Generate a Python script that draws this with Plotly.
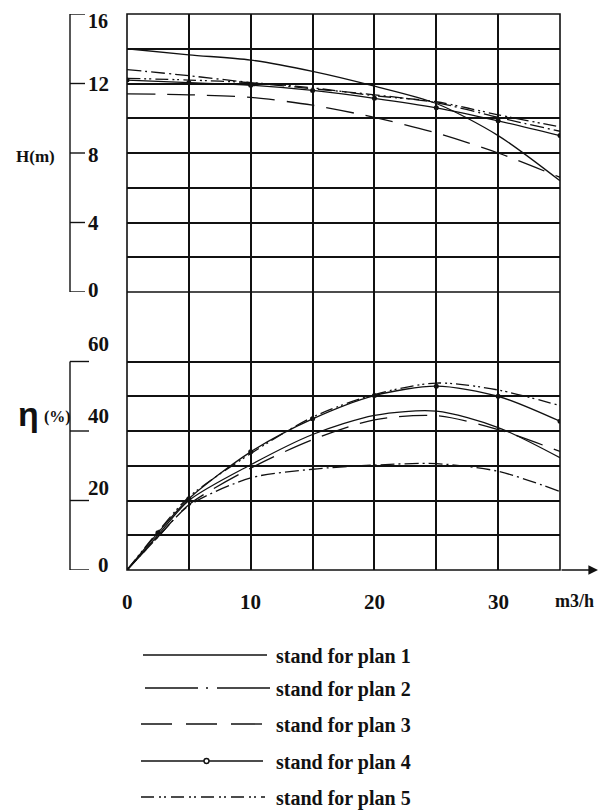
import plotly.graph_objects as go

# ---------------- data ----------------
Q_H = [0, 5, 10, 15, 20, 25, 30, 35]
H_plan1 = [14.0, 13.65, 13.35, 12.7, 11.85, 10.85, 9.0, 6.4]
H_plan2 = [12.8, 12.45, 12.05, 11.7, 11.35, 10.9, 10.05, 9.25]
H_plan3 = [11.4, 11.35, 11.2, 10.75, 10.05, 9.15, 8.0, 6.6]
H_plan4 = [12.2, 12.05, 11.9, 11.6, 11.15, 10.6, 9.85, 9.0]
H_plan5 = [12.3, 12.2, 12.05, 11.75, 11.3, 10.95, 10.2, 9.5]

Q_eta = [0, 2.5, 5, 10, 15, 20, 25, 30, 35]
eta_plan1 = [0, 10.0, 20.0, 30.3, 39.0, 44.5, 45.7, 41.0, 32.3]
eta_plan2 = [0, 9.5, 18.5, 26.5, 29.0, 30.2, 30.6, 28.4, 22.6]
eta_plan3 = [0, 9.5, 18.8, 29.3, 37.5, 43.2, 44.4, 40.4, 34.1]
eta_plan4 = [0, 10.7, 20.5, 34.0, 43.5, 50.2, 52.9, 50.0, 42.8]
eta_plan5 = [0, 11.0, 21.0, 33.5, 44.0, 50.5, 53.8, 51.8, 47.3]

x_ticks = [0, 10, 20, 30]
H_ticks = [16, 12, 8, 4, 0]
eta_ticks = [60, 40, 20, 0]
legend_labels = ["stand for plan 1", "stand for plan 2", "stand for plan 3",
                 "stand for plan 4", "stand for plan 5"]

# ---------------- styles ----------------
OFF = 8                      # page body margin
W, Hgt = 602, 802
BLACK = "#111111"
SERIF = "Liberation Serif"
plan_dash = ["solid", "14px,4px,2px,4px", "28px,12px", "solid", "13px,4px,2px,3px,2px,4px"]
H_series = [H_plan1, H_plan2, H_plan3, H_plan4, H_plan5]
eta_series = [eta_plan1, eta_plan2, eta_plan3, eta_plan4, eta_plan5]


def px(x):
    return (x - OFF) / W


def py(y):
    return 1 - (y - OFF) / Hgt


fig = go.Figure()
for i in range(5):
    mode = "lines+markers" if i == 3 else "lines"
    fig.add_trace(go.Scatter(
        x=Q_H, y=H_series[i], mode=mode, xaxis="x", yaxis="y",
        line=dict(color=BLACK, width=1.3, dash=plan_dash[i], shape="spline", smoothing=0.8),
        marker=dict(size=5, color=BLACK), name=legend_labels[i], hoverinfo="skip"))
    fig.add_trace(go.Scatter(
        x=Q_eta, y=eta_series[i], mode=mode, xaxis="x", yaxis="y2",
        line=dict(color=BLACK, width=1.3, dash=plan_dash[i], shape="spline", smoothing=0.8),
        marker=dict(size=5, color=BLACK), name=legend_labels[i], hoverinfo="skip"))

grid = dict(showgrid=True, gridcolor=BLACK, gridwidth=1.6, zeroline=False,
            showticklabels=False, ticks="", showline=False)

fig.update_layout(
    width=W, height=Hgt, margin=dict(l=0, r=0, t=0, b=0),
    paper_bgcolor="white", plot_bgcolor="white", showlegend=False,
    xaxis=dict(domain=[px(127), px(560)], range=[0, 35],
               tickvals=[0, 5, 10, 15, 20, 25, 30, 35], anchor="y2", **grid),
    yaxis=dict(domain=[py(292), py(14)], range=[0, 16],
               tickvals=[0, 2, 4, 6, 8, 10, 12, 14, 16], anchor="x", **grid),
    yaxis2=dict(domain=[py(570), py(292)], range=[0, 80],
                tickvals=[0, 10, 20, 30, 40, 50, 60, 80], anchor="x", **grid),
)

shapes = []
ann = []
# frame
shapes.append(dict(type="rect", xref="paper", yref="paper", x0=px(127), x1=px(560),
                   y0=py(570), y1=py(14), line=dict(color=BLACK, width=1.6)))
shapes.append(dict(type="line", xref="paper", yref="paper", x0=px(127), x1=px(560),
                   y0=py(292), y1=py(292), line=dict(color=BLACK, width=1.6)))

# H bracket axis
shapes.append(dict(type="line", xref="paper", yref="y", x0=px(70), x1=px(70), y0=0, y1=16,
                   line=dict(color=BLACK, width=1.4)))
H_shift = {16: -7, 12: -1, 8: -2, 4: -1, 0: 2}
for v in H_ticks:
    shapes.append(dict(type="line", xref="paper", yref="y", x0=px(70), x1=px(85), y0=v, y1=v,
                       line=dict(color=BLACK, width=1.4)))
    ann.append(dict(x=px(86), y=v, xref="paper", yref="y", text=str(v), showarrow=False,
                    xanchor="left", yanchor="middle", yshift=H_shift[v],
                    font=dict(family=SERIF, size=21 if v != 16 else 20, color=BLACK, weight="bold")))
ann.append(dict(x=px(35), y=8, xref="paper", yref="y", text="H(m)", showarrow=False,
                xanchor="center", yanchor="middle", yshift=-4,
                font=dict(family=SERIF, size=17, color=BLACK, weight="bold")))

# eta bracket axis
shapes.append(dict(type="line", xref="paper", yref="y2", x0=px(70), x1=px(70), y0=0, y1=60,
                   line=dict(color=BLACK, width=1.4)))
eta_shift = {60: 17, 40: 15, 20: 12, 0: 5}
eta_x = {60: 98, 40: 98, 20: 98, 0: 103}
for v in eta_ticks:
    shapes.append(dict(type="line", xref="paper", yref="y2", x0=px(70), x1=px(89), y0=v, y1=v,
                       line=dict(color=BLACK, width=1.4)))
    ann.append(dict(x=px(eta_x[v]), y=v, xref="paper", yref="y2", text=str(v), showarrow=False,
                    xanchor="center", yanchor="middle", yshift=eta_shift[v],
                    font=dict(family=SERIF, size=21, color=BLACK, weight="bold")))
ann.append(dict(x=px(41), y=py(414), xref="paper", yref="paper", text="η", showarrow=False,
                xanchor="right", yanchor="middle",
                font=dict(family="Liberation Sans", size=34, color=BLACK, weight="bold")))
ann.append(dict(x=px(42), y=py(417), xref="paper", yref="paper", text="(%)", showarrow=False,
                xanchor="left", yanchor="middle",
                font=dict(family=SERIF, size=16, color=BLACK, weight="bold")))

# x tick labels
for v in x_ticks:
    ann.append(dict(x=v, y=py(602), xref="x", yref="paper", text=str(v), showarrow=False,
                    xanchor="center", yanchor="middle",
                    font=dict(family=SERIF, size=21, color=BLACK, weight="bold")))
ann.append(dict(x=px(574), y=py(601), xref="paper", yref="paper", text="m3/h", showarrow=False,
                xanchor="center", yanchor="middle",
                font=dict(family=SERIF, size=18, color=BLACK, weight="bold")))
# axis arrow
ann.append(dict(x=px(598), y=py(570), xref="paper", yref="paper", text="", showarrow=True,
                ax=-38, ay=0, arrowhead=2, arrowsize=1.2, arrowwidth=1.6, arrowcolor=BLACK))

# legend
leg_y = [655, 688, 724, 761, 797]
leg_x0 = [143, 145, 141, 141, 141]
leg_x1 = [267, 270, 265, 263, 265]
leg_dash = ["solid", "53px,8px,2px,9px", "31px,14px", "solid", "13px,5px,2px,3px,2px,5px"]
for i in range(5):
    shapes.append(dict(type="line", xref="paper", yref="paper", x0=px(leg_x0[i]), x1=px(leg_x1[i]),
                       y0=py(leg_y[i]), y1=py(leg_y[i]),
                       line=dict(color=BLACK, width=1.4, dash=leg_dash[i])))
    ann.append(dict(x=px(274), y=py(leg_y[i] + 1), xref="paper", yref="paper", text=legend_labels[i],
                    showarrow=False, xanchor="left", yanchor="middle",
                    font=dict(family=SERIF, size=20, color=BLACK, weight="bold")))
shapes.append(dict(type="circle", xref="paper", yref="paper", x0=px(204), x1=px(209),
                   y0=py(763.5), y1=py(758.5), fillcolor="white", line=dict(color=BLACK, width=1.4)))

fig.update_layout(shapes=shapes, annotations=ann)
fig.write_html("out.html")
